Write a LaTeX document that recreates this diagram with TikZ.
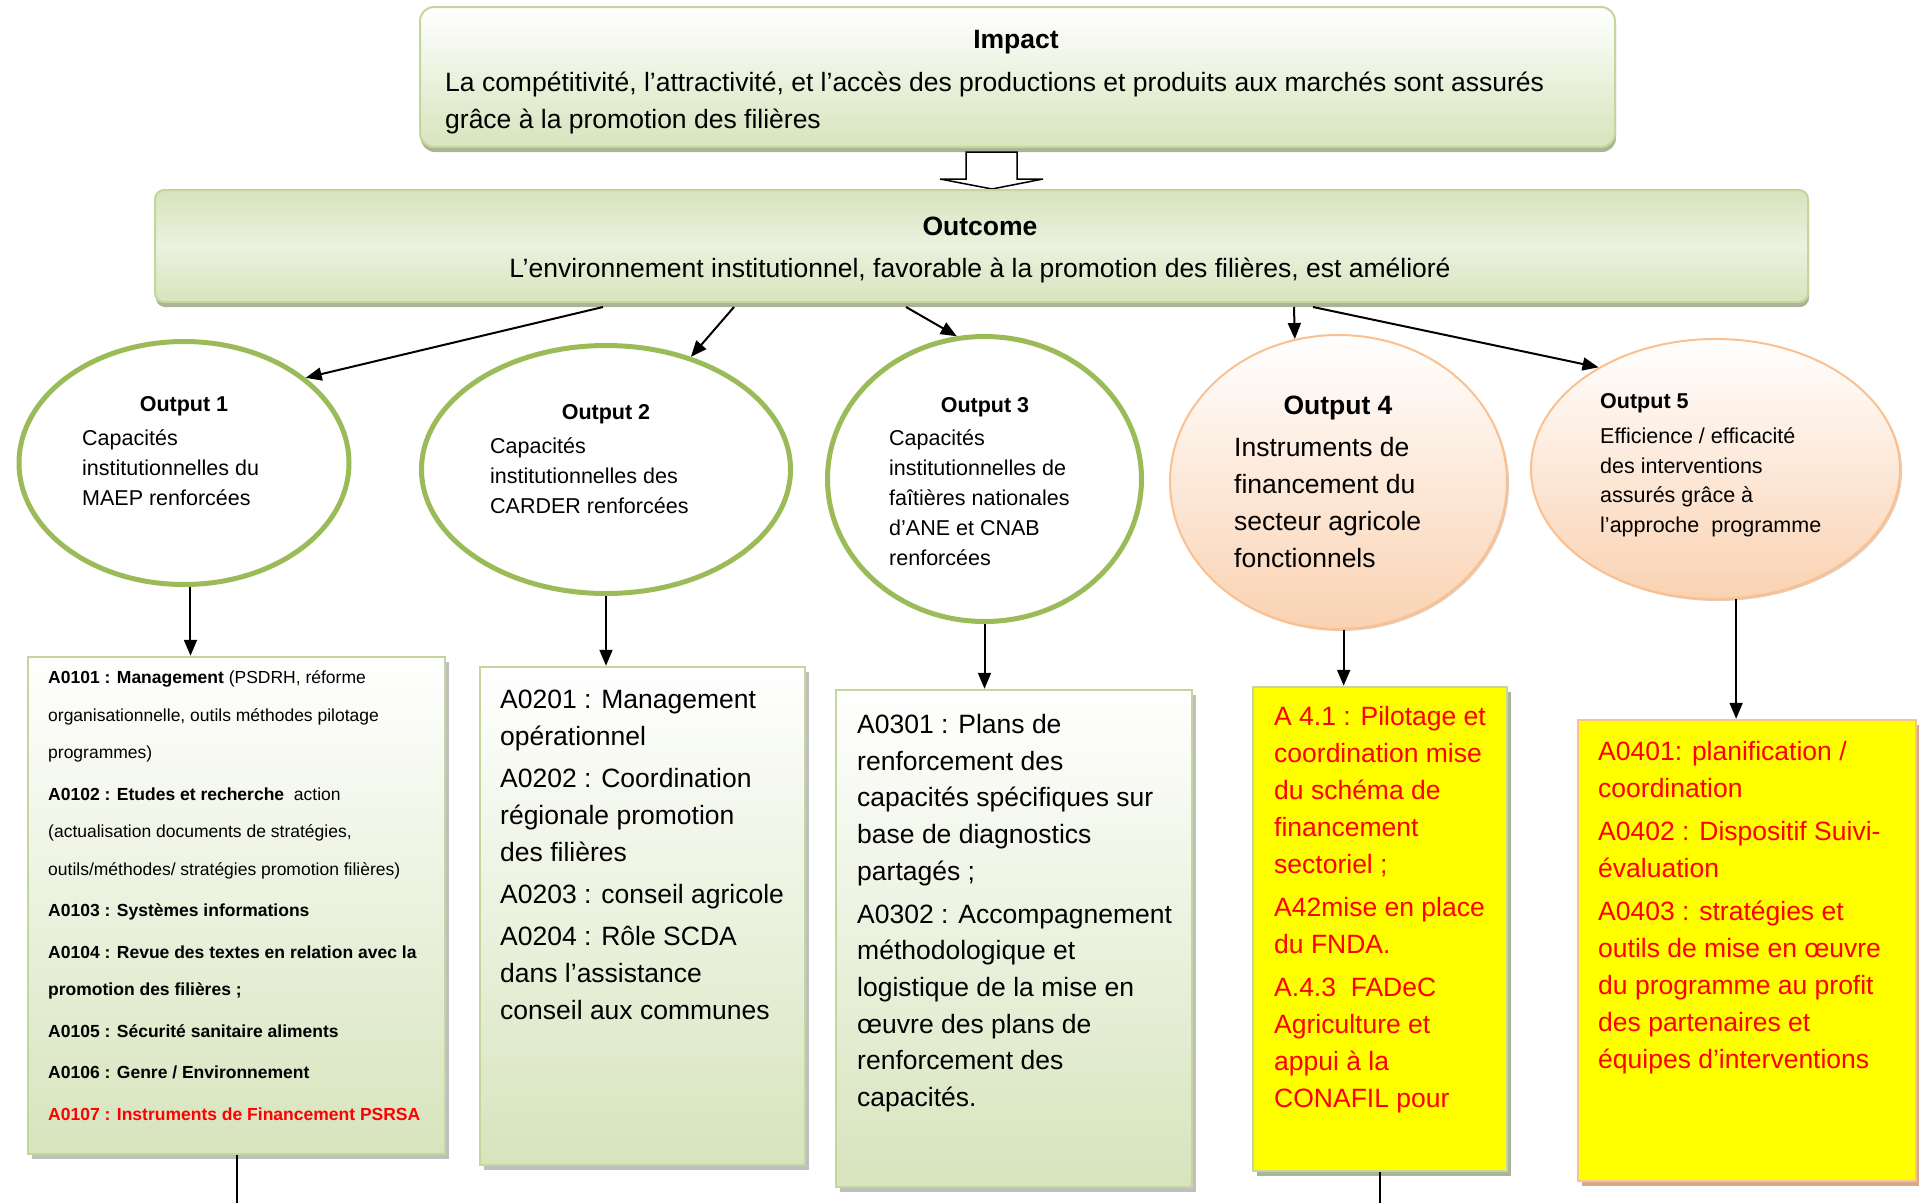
\documentclass[tikz,border=0pt]{standalone}
\usepackage{fontspec}
\setmainfont{Liberation Sans}
\usetikzlibrary{shapes.geometric,shadows,arrows.meta}

\definecolor{ovalgreen}{HTML}{9BBB59}
\definecolor{edgegreen}{HTML}{C3D69B}
\definecolor{palegreen}{HTML}{D7E4BD}
\definecolor{lightgreen}{HTML}{EBF1DE}
\definecolor{shadegreen}{HTML}{A9B596}
\definecolor{peachedge}{HTML}{FAC090}
\definecolor{peachfill}{HTML}{FAD2B2}
\definecolor{tanshadow}{HTML}{D6A98A}
\definecolor{actred}{HTML}{FF0000}
\definecolor{actyellow}{HTML}{FFFF00}

\tikzset{
  headbox/.style={rectangle, draw=edgegreen, line width=2pt, inner sep=0pt,
    drop shadow={shadow xshift=1pt, shadow yshift=-5pt, fill=shadegreen, opacity=1}},
  greenoval/.style={ellipse, draw=ovalgreen, line width=5pt, fill=white, inner sep=0pt},
  peachoval/.style={ellipse, draw=peachedge, line width=2pt, top color=white,
    bottom color=peachfill, inner sep=0pt,
    drop shadow={shadow xshift=2pt, shadow yshift=-2pt, fill=tanshadow!60, opacity=1}},
  actbox/.style={rectangle, draw=edgegreen, line width=2.5pt, inner sep=0pt,
    top color=white, bottom color=palegreen,
    drop shadow={shadow xshift=4pt, shadow yshift=-5pt, fill=black!25, opacity=1}},
  yellowbox/.style={rectangle, line width=2.5pt, inner sep=0pt, fill=actyellow},
  link/.style={-{Triangle[length=16pt,width=13pt]}, line width=2pt},
  stub/.style={line width=2pt},
  bigtitle/.style={anchor=base, inner sep=0pt, font=\bfseries\fontsize{26.5}{37}\selectfont},
  bigtext/.style={anchor=base west, inner sep=0pt, align=left, font=\fontsize{26.5}{37}\selectfont},
  ovaltitle/.style={anchor=base, inner sep=0pt, font=\bfseries\fontsize{21.5}{30}\selectfont},
  ovaltext/.style={anchor=base west, inner sep=0pt, align=left, font=\fontsize{21.5}{30}\selectfont},
  smalltext/.style={anchor=base west, inner sep=0pt, align=left, font=\fontsize{17.5}{37.5}\selectfont},
}

\begin{document}
\begin{tikzpicture}[x=1pt, y=-1pt]
  \useasboundingbox (0,0) rectangle (1919,1203);
  \coordinate (pagefoot) at (0,1203);

  \node[headbox, rounded corners=14pt, top color=white, bottom color=palegreen,
        minimum width=1195pt, minimum height=140pt] (impact) at (1017.5,77) {};
  \node[bigtitle] (impacttitle) at (1016,48.5) {Impact};
  \node[bigtext] (impacttext) at (445,128.5) {La compétitivité, l’attractivité, et l’accès des productions et produits aux marchés sont assurés\\grâce à la promotion des filières};

  \draw[line width=1.5pt, fill=white] (966,152) -- (966,179) -- (940,179) -- (992,189)
    -- (1043,179) -- (1017,179) -- (1017,152) -- cycle;

  \node[headbox, rounded corners=9pt, top color=palegreen, bottom color=palegreen,
        middle color=lightgreen, minimum width=1653pt, minimum height=112pt] (outcome) at (981.5,246) {};
  \node[bigtitle] (outcometitle) at (980,235.5) {Outcome};
  \node[bigtitle, font=\fontsize{26.5}{37}\selectfont] (outcometext) at (980,277.5) {L’environnement institutionnel, favorable à la promotion des filières, est amélioré};

  \node[greenoval, minimum width=330pt, minimum height=243pt] (o1) at (184,463) {};
  \node[greenoval, minimum width=369pt, minimum height=248pt] (o2) at (606,469.5) {};
  \node[greenoval, minimum width=314pt, minimum height=285pt] (o3) at (984.5,479) {};
  \node[peachoval, minimum width=337pt, minimum height=294pt] (o4) at (1338.5,482) {};
  \node[peachoval, minimum width=369pt, minimum height=260pt] (o5) at (1715.5,469) {};

  \node[ovaltitle] (o1title) at (184,411) {Output 1};
  \node[ovaltext] (o1text) at (82,505) {Capacités\\institutionnelles du\\MAEP renforcées};
  \node[ovaltitle] (o2title) at (606,419) {Output 2};
  \node[ovaltext] (o2text) at (490,513) {Capacités\\institutionnelles des\\CARDER renforcées};
  \node[ovaltitle] (o3title) at (985,412) {Output 3};
  \node[ovaltext, font=\fontsize{21.5}{29.8}\selectfont] (o3text) at (889,565) {Capacités\\institutionnelles de\\faîtières nationales\\d’ANE et CNAB\\renforcées};
  \node[bigtitle] (o4title) at (1338,414.5) {Output 4};
  \node[bigtext] (o4text) at (1234,567.5) {Instruments de\\financement du\\secteur agricole\\fonctionnels};
  \node[ovaltitle, anchor=base west] (o5title) at (1600,408) {Output 5};
  \node[ovaltext, font=\fontsize{21.5}{29.4}\selectfont] (o5text) at (1600,532) {Efficience / efficacité\\des interventions\\assurés grâce à\\l’approche\ \ programme};

  \draw[link] ([xshift=-378.5pt,yshift=-4pt]outcome.south) -- (o1.35);
  \draw[link] ([xshift=-247.5pt,yshift=-4pt]outcome.south) -- (o2.53);
  \draw[link] ([xshift=-75.5pt,yshift=-4pt]outcome.south) -- (o3.101);
  \draw[link] ([xshift=312.5pt,yshift=-4pt]outcome.south) -- (o4.107);
  \draw[link] ([xshift=331.5pt,yshift=-4pt]outcome.south) -- (o5.139);

  \node[actbox, minimum width=417pt, minimum height=497pt] (b1) at (236.5,905.5) {};
  \node[actbox, minimum width=325pt, minimum height=498pt] (b2) at (642.5,916) {};
  \node[actbox, minimum width=356pt, minimum height=497pt] (b3) at (1014,938.5) {};
  \node[yellowbox, draw=edgegreen,
        drop shadow={shadow xshift=4pt, shadow yshift=-5pt, fill=shadegreen, opacity=1},
        minimum width=254pt, minimum height=484pt] (b4) at (1380,929) {};
  \node[yellowbox, draw=peachedge,
        drop shadow={shadow xshift=4pt, shadow yshift=-5pt, fill=tanshadow, opacity=1},
        minimum width=338pt, minimum height=461pt] (b5) at (1747,950.5) {};

  \draw[link] (o1.-87) -- (o1.-87 |- b1.north);
  \draw[link] (o2.south) -- (o2.south |- b2.north);
  \draw[link] (o3.south) -- (o3.south |- b3.north);
  \draw[link] (o4.-88) -- (o4.-88 |- b4.north);
  \draw[link] (o5.-81) -- (o5.-81 |- b5.north);

  \draw[stub] (b1.south) -- (b1.south |- pagefoot);
  \draw[stub] (b4.south) -- (b4.south |- pagefoot);

  \node[smalltext] (b1text) at (48,1120.3) {\textbf{A0101 : Management} (PSDRH, réforme\\organisationnelle, outils méthodes pilotage\\programmes)\\[4pt]
    \textbf{A0102 : Etudes et recherche}\ \ action\\(actualisation documents de stratégies,\\outils/méthodes/ stratégies promotion filières)\\[4pt]
    \textbf{A0103 : Systèmes informations}\\[4pt]
    \textbf{A0104 : Revue des textes en relation avec la}\\\textbf{promotion des filières ;}\\[4pt]
    \textbf{A0105 : Sécurité sanitaire aliments}\\[4pt]
    \textbf{A0106 : Genre / Environnement}\\[4pt]
    \textcolor{actred}{\textbf{A0107 : Instruments de Financement PSRSA}}};
  \node[bigtext] (b2text) at (500,1019.5) {A0201 : Management\\opérationnel\\[5pt]
    A0202 : Coordination\\régionale promotion\\des filières\\[5pt]
    A0203 : conseil agricole\\[5pt]
    A0204 : Rôle SCDA\\dans l’assistance\\conseil aux communes};
  \node[bigtext, font=\fontsize{26.5}{36.7}\selectfont] (b3text) at (857,1106.5) {A0301 : Plans de\\renforcement des\\capacités spécifiques sur\\base de diagnostics\\partagés ;\\[6pt]
    A0302 : Accompagnement\\méthodologique et\\logistique de la mise en\\œuvre des plans de\\renforcement des\\capacités.};
  \node[bigtext, text=actred] (b4text) at (1274,1107.5) {A 4.1 : Pilotage et\\coordination mise\\du schéma de\\financement\\sectoriel ;\\[6pt]
    A42mise en place\\du FNDA.\\[6pt]
    A.4.3\ \ FADeC\\Agriculture et\\appui à la\\CONAFIL pour};
  \node[bigtext, text=actred] (b5text) at (1598,1068.5) {A0401: planification /\\coordination\\[6pt]
    A0402 : Dispositif Suivi-\\évaluation\\[6pt]
    A0403 : stratégies et\\outils de mise en œuvre\\du programme au profit\\des partenaires et\\équipes d’interventions};
\end{tikzpicture}
\end{document}
